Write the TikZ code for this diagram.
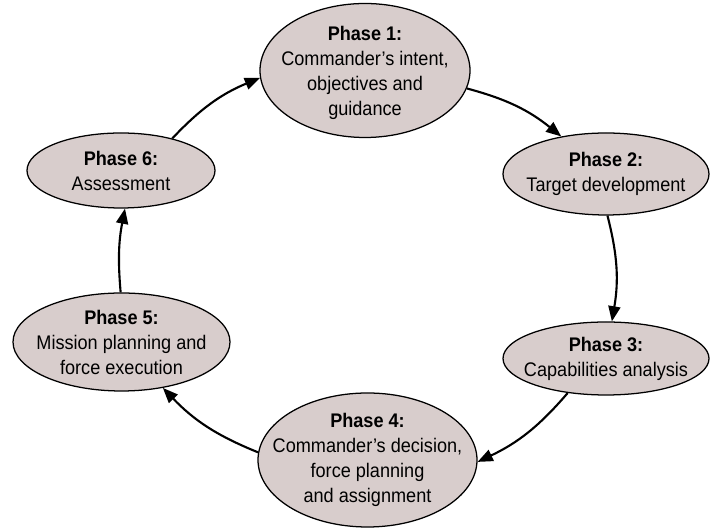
\documentclass[tikz,border=0pt]{standalone}
\usepackage{fontspec}
\setmainfont{Liberation Sans}[FakeStretch=0.92]
\usetikzlibrary{arrows.meta,shapes.geometric}
\definecolor{phasefill}{RGB}{216,205,204}
\begin{document}
\begin{tikzpicture}[
  phase/.style={ellipse,draw,line width=0.9pt,fill=phasefill,inner sep=0pt},
  phasetext/.style={align=center,font=\fontsize{14}{17.8}\selectfont},
  cyc/.style={-{Triangle[length=3.8mm,width=3mm]},line width=1.5pt}
]
\useasboundingbox (0,0) rectangle (17.75,13.2);
\node[phase,minimum width=5.25cm,minimum height=3.35cm] (p1) at (9.125,11.4375) {};
\node[phasetext] (t1) at ([yshift=-0.05cm]p1) {\textbf{Phase 1:}\\Commander's intent,\\objectives and\\guidance};
\node[phase,minimum width=5.15cm,minimum height=2.05cm] (p2) at (15.15,8.85) {};
\node[phasetext] (t2) at (p2) {\textbf{Phase 2:}\\Target development};
\node[phase,minimum width=5.15cm,minimum height=1.825cm] (p3) at (15.15,4.2375) {};
\node[phasetext] (t3) at (p3) {\textbf{Phase 3:}\\Capabilities analysis};
\node[phase,minimum width=5.475cm,minimum height=3.35cm] (p4) at (9.1875,1.7) {};
\node[phasetext] (t4) at (p4) {\textbf{Phase 4:}\\Commander's decision,\\force planning\\and assignment};
\node[phase,minimum width=5.425cm,minimum height=2.45cm] (p5) at (3.0375,4.65) {};
\node[phasetext] (t5) at (p5) {\textbf{Phase 5:}\\Mission planning and\\force execution};
\node[phase,minimum width=4.7cm,minimum height=1.875cm] (p6) at (3.025,8.9375) {};
\node[phasetext] (t6) at (p6) {\textbf{Phase 6:}\\Assessment};
\draw[cyc] (p1.-10) to[bend left=12] (p2.140);
\draw[cyc] (p2.-88) to[bend left=12] (p3.81);
\draw[cyc] (p3.-138) to[bend left=12] (p4.-1);
\draw[cyc] (p4.176) to[bend left=12] (p5.-48);
\draw[cyc] (p5.91) to[bend left=8] (p6.-84);
\draw[cyc] (p6.32) to[bend left=12] (p1.184);
\end{tikzpicture}
\end{document}
